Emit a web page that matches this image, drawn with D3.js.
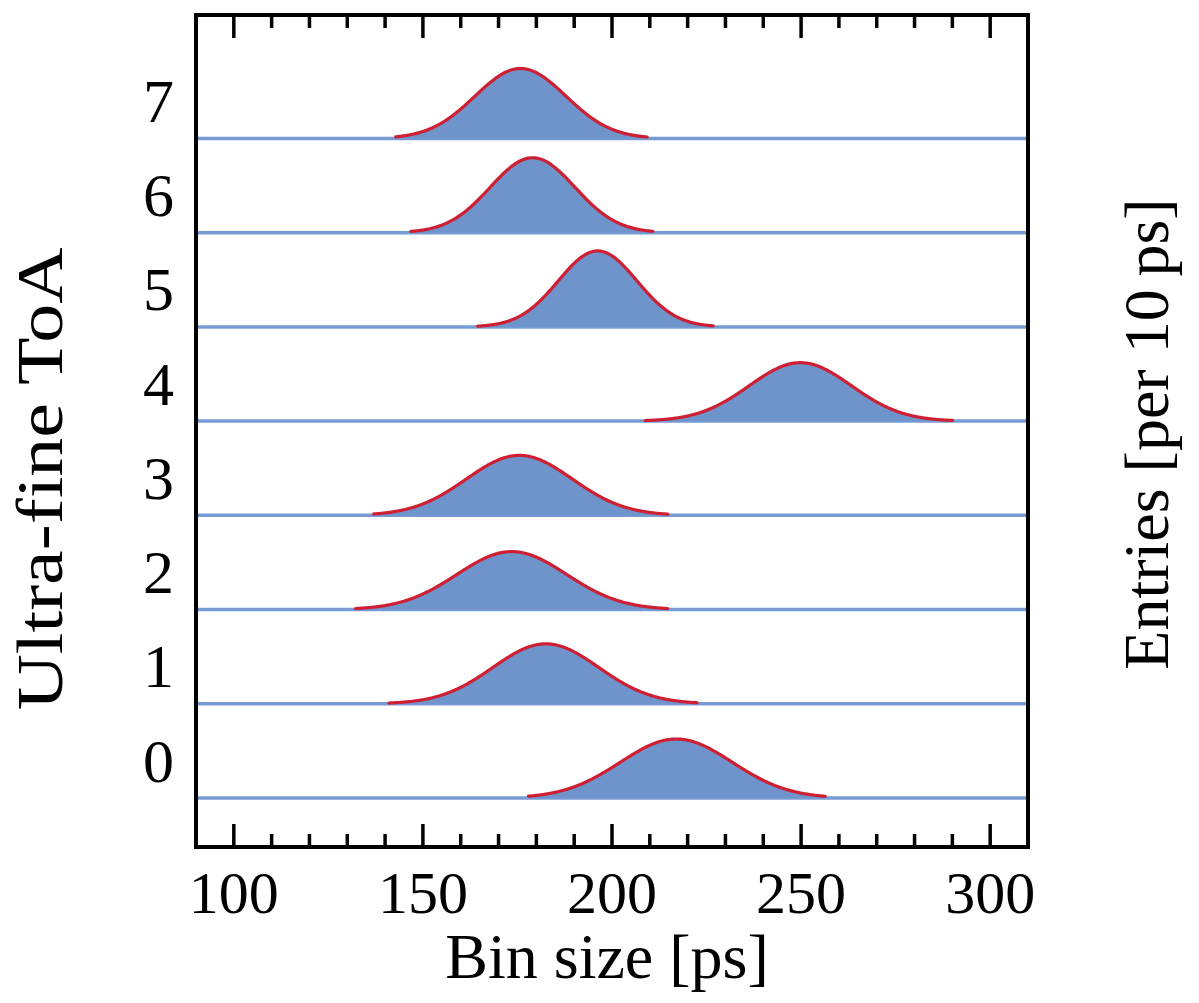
<!DOCTYPE html>
<html>
<head>
<meta charset="utf-8">
<script src="https://cdn.jsdelivr.net/npm/d3@7"></script>
<style>
  html, body { margin: 0; padding: 0; background: #fff; }
  svg text { font-family: "Liberation Serif", "DejaVu Serif", serif; fill: #000; }
</style>
</head>
<body>
<svg id="chart" width="1199" height="1003"></svg>
<script>
// Ultra-fine ToA bins, bottom to top
const toaBins = [0, 1, 2, 3, 4, 5, 6, 7];
// Gaussian fit per bin: mean and sigma in ps
const fitMean  = [217.0, 182.5, 173.5, 175.5, 249.8, 196.2, 179.0, 175.8];
const fitSigma = [14.8, 14.0, 14.5, 14.0, 13.5, 10.4, 11.2, 12.0];
// peak height, in units of the row spacing
const fitPeak  = [0.626, 0.636, 0.615, 0.636, 0.62, 0.806, 0.795, 0.742];
// fit range in ps
const fitLo    = [177.9, 141.0, 132.2, 137.0, 208.8, 164.5, 146.8, 142.8];
const fitHi    = [256.4, 222.6, 214.9, 214.9, 290.2, 226.8, 211.0, 209.4];
// x axis ticks
const majorTicks = [100, 150, 200, 250, 300];
const minorTicks = d3.range(100, 301, 10).filter(v => v % 50 !== 0);

const svg = d3.select("#chart");
const frame = { left: 196, right: 1028, top: 15, bottom: 847 };

const x = d3.scaleLinear().domain([90, 310]).range([frame.left, frame.right]);
const y = d3.scaleLinear().domain([-0.52, 8.31]).range([frame.bottom, frame.top]);

const gauss = (v, i) => fitPeak[i] * Math.exp(-0.5 * Math.pow((v - fitMean[i]) / fitSigma[i], 2));

const plot = svg.append("g");

// baselines
plot.selectAll("line.base").data(toaBins).join("line")
  .attr("class", "base")
  .attr("x1", frame.left).attr("x2", frame.right)
  .attr("y1", d => y(d)).attr("y2", d => y(d))
  .attr("stroke", "#769bd4").attr("stroke-width", 3.5);

toaBins.forEach(i => {
  const pts = d3.range(fitLo[i], fitHi[i] + 1e-9, 0.25).map(v => ({ v, h: gauss(v, i) }));
  const area = d3.area().x(p => x(p.v)).y0(y(i)).y1(p => y(i + p.h));
  const line = d3.line().x(p => x(p.v)).y(p => y(i + p.h));
  plot.append("path").attr("d", area(pts)).attr("fill", "#6f93cb");
  plot.append("path").attr("d", line(pts)).attr("fill", "none")
    .attr("stroke", "#cf1f33").attr("stroke-width", 3.2)
    .attr("stroke-linecap", "round");
});

// frame
svg.append("rect")
  .attr("x", frame.left).attr("y", frame.top)
  .attr("width", frame.right - frame.left).attr("height", frame.bottom - frame.top)
  .attr("fill", "none").attr("stroke", "#000").attr("stroke-width", 4);

// ticks (bottom and top, pointing inward)
const tickG = svg.append("g").attr("stroke", "#000").attr("stroke-width", 3.5);
[[majorTicks, 23], [minorTicks, 13]].forEach(([vals, len]) => {
  tickG.selectAll(null).data(vals).join("line")
    .attr("x1", d => x(d)).attr("x2", d => x(d))
    .attr("y1", frame.bottom).attr("y2", frame.bottom - len);
  tickG.selectAll(null).data(vals).join("line")
    .attr("x1", d => x(d)).attr("x2", d => x(d))
    .attr("y1", frame.top).attr("y2", frame.top + len);
});

// tick labels
svg.selectAll("text.xt").data(majorTicks).join("text")
  .attr("class", "xt")
  .attr("x", d => x(d)).attr("y", 913)
  .attr("text-anchor", "middle")
  .attr("font-size", 60)
  .text(d => d);

// row labels
svg.selectAll("text.rl").data(toaBins).join("text")
  .attr("class", "rl")
  .attr("x", 174).attr("y", d => y(d) - 16.5)
  .attr("text-anchor", "end")
  .attr("font-size", 62)
  .text(d => d);

// axis titles
svg.append("text")
  .attr("x", 607).attr("y", 978)
  .attr("text-anchor", "middle")
  .attr("font-size", 64)
  .text("Bin size [ps]");

svg.append("text")
  .attr("transform", "translate(62,479) rotate(-90) scale(1.2,1)")
  .attr("text-anchor", "middle")
  .attr("font-size", 65)
  .text("Ultra-fine ToA");

svg.append("text")
  .attr("transform", "translate(1168,434) rotate(-90)")
  .attr("text-anchor", "middle")
  .attr("font-size", 64)
  .text("Entries [per 10\u2009ps]");
</script>
</body>
</html>
